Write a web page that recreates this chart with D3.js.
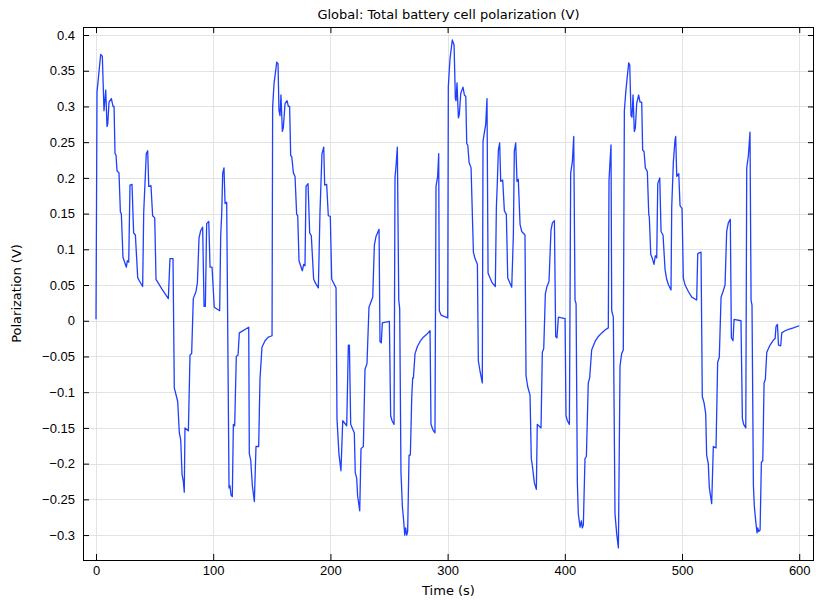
<!DOCTYPE html>
<html lang="en">
<head>
<meta charset="utf-8">
<title>Global: Total battery cell polarization (V)</title>
<script src="https://cdn.jsdelivr.net/npm/d3@7/dist/d3.min.js"></script>
<style>
  body { margin: 0; background: #fff; }
  svg { font-family: "DejaVu Sans", sans-serif; }
  .grid line { stroke: #e3e3e3; stroke-width: 1; }
  .axis path { display: none; }
  .axis line { stroke: #000; }
  .axis text { font-size: 13px; fill: #000; }
</style>
</head>
<body>
<svg width="816" height="600"></svg>
<script>
// time (s)
var time = [
  0, 0.85, 4.0, 5.4, 6.8, 8.3, 9.4, 10, 11.1, 13.1, 14.5, 15.4, 16.2, 17.1, 17.9, 19.6, 20.8, 21.6, 23, 25.9,
  26.7, 27.9, 29, 30.7, 32.1, 33.6, 35.6, 37.3, 39.8, 40.7, 42.9, 44.1, 45, 46.9, 48.3, 50.1, 51.2, 56, 61.7, 63.1,
  65.7, 66.8, 69.7, 71.1, 72.3, 73.4, 74.5, 75.3, 75.9, 78.8, 80.2, 81.6, 83, 85.3, 86.5, 87.9, 89.3, 91, 92.2, 93.3,
  94.4, 96.2, 97.3, 99, 100.9, 105.5, 106.4, 107.2, 108.1, 109.2, 110.1, 111.5, 113.5, 114.3, 115.2, 116.3, 117.2, 118.3, 119.7, 121.2,
  122.3, 130.3, 130.8, 132, 133.4, 135.1, 136.5, 138.8, 139.9, 141.6, 144.2, 147, 150.2, 150.7, 151.9, 154.2, 155.3,
  156.1, 157, 157.8, 159, 159.8, 161.3, 163, 164.1, 165.2, 166.1, 167, 168.4, 169.8, 171.2, 172.1, 173.2, 176, 177.2, 178.3,
  179.2, 180.9, 182.3, 183.7, 185.7, 187.5, 189.7, 191.1, 192.8, 194.3, 195.1, 196.8, 198.2, 199.9, 201.1, 204.8, 205.6, 207.3, 209,
  210.5, 213.9, 215.3, 216.2, 217.3, 220.4, 221.2, 222.4, 223.2, 225, 226.1, 228.1, 229.5, 231.2, 232.9, 236.1, 237.5, 238.9, 241.5,
  242.3, 243.4, 244.3, 250.3, 251.4, 252.6, 254.3, 255.1, 256, 257.1, 258.3, 259.1, 260.2, 261.4, 262.5, 263.4, 264.2, 265.1, 265.9,
  267.1, 268.2, 269.4, 270.2, 270.8, 272.2, 274.2, 276.5, 279.3, 282.2, 285, 285.8, 287.3, 289.2, 290.1, 291.5, 292.4, 292.9, 294.4,
  300.1, 300.6, 302, 304, 305.5,
  306.6, 307.2, 308, 309.2, 310, 311.2, 313.1, 314.3, 315.5, 316.3, 317.2, 318.3, 320, 322, 323.4, 325.4, 326.2, 327.6, 329.6,
  330.2, 331.3, 332.5, 333.6, 334.5, 336.2, 338.1, 340.7, 341.6, 342.4, 343.3, 344.4, 345.3, 347, 348.4, 350.1, 351.3, 354.7, 356.1,
  356.9, 358.1, 359.2, 360.3, 361.8, 363.2, 366, 366.9, 368.3, 370.3, 371.4, 372.3, 374, 375.7, 376.5, 379.7, 380.8, 382, 383.4,
  384.8, 386.5, 388.2, 389.4, 391.1, 392.2, 393.3, 394.5, 400.2, 401, 402.2, 403.9, 405, 406.4, 407.6, 408.7, 409.6, 410.7, 411.5,
  413, 414.1, 414.9, 415.8, 417.2, 418.4, 420, 421.2, 422.9, 425.8, 428.6, 431.5, 434.3, 437.1, 437.7, 438.6, 439.4, 440, 441.4,
  442.8, 444.3, 445.7, 447.1, 448.5, 449.9, 450.8, 452, 453.3, 454.5, 455.4,
  456.5, 457.3, 458.2, 459.3, 460.2, 461.3, 463, 464.2, 465.6, 466.4, 467.6, 468.7, 470.4, 471.6, 472.1, 473.3, 474.7, 476.1, 477.2,
  478.4, 479.3, 481, 482.1, 483.8, 485.5, 486.9, 488.5, 490.6, 491.2, 492.6, 494, 494.6, 495.5, 497.2, 498.3, 500, 501.1, 502.6,
  505.4, 508.3, 512.5, 513.4, 516.2, 517.3, 518.8, 520.2, 521, 522.4, 523.3, 525.3, 526.7, 529, 530.4, 531.8, 533.3, 535, 536.7,
  538.1, 539.5, 541.2, 542.1, 543.5, 544.4, 550.3, 551.5, 552.6, 554.4, 555.2, 556.6, 558, 558.9, 559.7, 560.9, 561.7, 563.1, 564,
  564.6, 565.4, 566.6, 567.7, 568.9, 570, 571.1, 572.3, 575.1, 578, 579.4, 580.2, 581.4, 582.3, 584.2, 585.1, 587.9, 590.8, 595, 600
];

// polarization (V)
var polarization = [
  0.002, 0.32, 0.373, 0.37, 0.294, 0.323, 0.272, 0.275, 0.306, 0.311, 0.30, 0.30, 0.234, 0.232, 0.21, 0.207, 0.152, 0.15, 0.089, 0.075,
  0.084, 0.082, 0.19, 0.191, 0.123, 0.12, 0.06, 0.055, 0.048, 0.152, 0.234, 0.238, 0.188, 0.189, 0.147, 0.144, 0.058, 0.045, 0.031, 0.087,
  0.087, -0.094, -0.113, -0.157, -0.167, -0.215, -0.225, -0.24, -0.15, -0.154, -0.048, -0.046, 0.031, 0.041, 0.053, 0.116, 0.126, 0.131, 0.02, 0.02,
  0.136, 0.139, 0.075, 0.075, 0.019, 0.014, 0.12, 0.147, 0.207, 0.214, 0.164, 0.166, -0.234, -0.231, -0.244, -0.246, -0.145, -0.147, -0.05, -0.048,
  -0.017, -0.009, -0.186, -0.195, -0.231, -0.253, -0.176, -0.176, -0.082, -0.037, -0.028, -0.023, -0.021, 0.299, 0.332, 0.362, 0.36,
  0.294, 0.287, 0.316, 0.265, 0.27, 0.304, 0.308, 0.30, 0.30, 0.231, 0.23, 0.207, 0.202, 0.149, 0.147, 0.084, 0.07, 0.079, 0.077,
  0.188, 0.192, 0.123, 0.119, 0.058, 0.052, 0.046, 0.152, 0.234, 0.243, 0.19, 0.191, 0.147, 0.146, 0.058, 0.046, -0.137, -0.187, -0.21,
  -0.14, -0.147, -0.034, -0.034, -0.145, -0.157, -0.213, -0.22, -0.245, -0.266, -0.179, -0.176, -0.068, -0.06, 0.019, 0.033, 0.106, 0.118, 0.128,
  -0.029, -0.031, -0.003, -0.001, -0.133, -0.14, -0.145, 0.2, 0.217, 0.243, 0.029, 0.017, -0.212, -0.26, -0.28, -0.3, -0.29, -0.3, -0.295,
  -0.188, -0.188, -0.106, -0.08, -0.08, -0.046, -0.036, -0.029, -0.023, -0.019, -0.014, -0.145, -0.152, -0.157, 0.188, 0.202, 0.234, 0.014, 0.008,
  0.004, 0.328, 0.366, 0.393, 0.386,
  0.311, 0.308, 0.333, 0.284, 0.289, 0.318, 0.327, 0.316, 0.314, 0.248, 0.246, 0.222, 0.214, 0.096, 0.087, 0.079, -0.056, -0.07, -0.087,
  0.251, 0.263, 0.275, 0.311, 0.067, 0.06, 0.053, 0.048, 0.159, 0.193, 0.239, 0.249, 0.195, 0.197, 0.154, 0.149, 0.06, 0.047, 0.12,
  0.237, 0.249, 0.195, 0.198, 0.135, 0.125, 0.12, -0.077, -0.092, -0.104, -0.193, -0.203, -0.227, -0.236, -0.145, -0.15, -0.044, -0.039, 0.038,
  0.048, 0.055, 0.127, 0.137, 0.14, -0.022, -0.024, 0.005, 0.003, -0.133, -0.14, -0.145, 0.207, 0.222, 0.258, 0.029, 0.024, -0.227, -0.27,
  -0.289, -0.28, -0.29, -0.286, -0.193, -0.19, -0.087, -0.08, -0.041, -0.029, -0.022, -0.017, -0.013, -0.01, 0.197, 0.224, 0.246, 0.014, 0.005,
  -0.27, -0.299, -0.318, -0.063, -0.046, -0.041, 0.294, 0.32, 0.342, 0.361, 0.358,
  0.287, 0.285, 0.316, 0.265, 0.27, 0.304, 0.316, 0.306, 0.306, 0.239, 0.237, 0.214, 0.209, 0.149, 0.145, 0.093, 0.087, 0.079, 0.091,
  0.088, 0.192, 0.2, 0.125, 0.12, 0.072, 0.058, 0.05, 0.043, 0.159, 0.222, 0.253, 0.258, 0.202, 0.206, 0.161, 0.157, 0.06, 0.05,
  0.041, 0.033, 0.029, 0.094, 0.096, -0.106, -0.115, -0.13, -0.188, -0.2, -0.234, -0.256, -0.176, -0.178, -0.058, -0.051, 0.033, 0.041, 0.05,
  0.125, 0.137, 0.142, -0.024, -0.028, 0.002, 0.0, -0.137, -0.145, -0.15, 0.214, 0.231, 0.264, 0.029, 0.022, -0.231, -0.26, -0.284, -0.297,
  -0.29, -0.295, -0.293, -0.198, -0.196, -0.087, -0.082, -0.044, -0.034, -0.027, -0.025, -0.008, -0.005, -0.034, -0.035, -0.017, -0.014, -0.012, -0.01, -0.007
];

var xTicks = [0, 100, 200, 300, 400, 500, 600];
var yTicks = [-0.3, -0.25, -0.2, -0.15, -0.1, -0.05, 0, 0.05, 0.1, 0.15, 0.2, 0.25, 0.3, 0.35, 0.4];

var data = time.map(function(t, i) { return {t: t, v: polarization[i]}; });

var margin = {top: 27, right: 2, bottom: 40, left: 83},
    width = 816 - margin.left - margin.right,
    height = 600 - margin.top - margin.bottom;

var x = d3.scaleLinear()
    .domain([-11.1, 612.6])
    .range([0, width]);

var y = d3.scaleLinear()
    .domain([-0.3349, 0.4112])
    .range([height, 0]);

var svg = d3.select("svg");
var g = svg.append("g")
    .attr("transform", "translate(" + margin.left + "," + margin.top + ")");

// grid
g.append("g").attr("class", "grid")
  .selectAll("line").data(xTicks).enter().append("line")
    .attr("x1", function(d) { return Math.round(x(d)) + 0.5; })
    .attr("x2", function(d) { return Math.round(x(d)) + 0.5; })
    .attr("y1", 0).attr("y2", height);
g.append("g").attr("class", "grid")
  .selectAll("line").data(yTicks).enter().append("line")
    .attr("y1", function(d) { return Math.round(y(d)) + 0.5; })
    .attr("y2", function(d) { return Math.round(y(d)) + 0.5; })
    .attr("x1", 0).attr("x2", width);

// line
var line = d3.line()
    .x(function(d) { return x(d.t); })
    .y(function(d) { return y(d.v); });

g.append("path")
    .datum(data)
    .attr("fill", "none")
    .attr("stroke", "#1f3fff")
    .attr("stroke-width", 1.3)
    .attr("stroke-linejoin", "round")
    .attr("d", line);

// axes, ticks pointing inward
var fmt = function(d) { return d3.format("")(+d.toFixed(2)); };

g.append("g").attr("class", "axis")
    .attr("transform", "translate(0," + height + ")")
    .call(d3.axisBottom(x).tickValues(xTicks).tickSize(-6).tickPadding(6));
g.append("g").attr("class", "axis")
    .call(d3.axisTop(x).tickValues(xTicks).tickSize(-6).tickFormat(""));
g.append("g").attr("class", "axis")
    .call(d3.axisLeft(y).tickValues(yTicks).tickSize(-6).tickPadding(8).tickFormat(fmt));
g.append("g").attr("class", "axis")
    .attr("transform", "translate(" + width + ",0)")
    .call(d3.axisRight(y).tickValues(yTicks).tickSize(-6).tickFormat(""));

// frame
g.append("rect")
    .attr("x", 0.5).attr("y", 0.5)
    .attr("width", width - 1).attr("height", height)
    .attr("fill", "none")
    .attr("stroke", "#000")
    .attr("stroke-width", 1);

// labels
svg.append("text")
    .attr("x", margin.left + width / 2)
    .attr("y", 19)
    .attr("text-anchor", "middle")
    .style("font-size", "13px")
    .text("Global: Total battery cell polarization (V)");

svg.append("text")
    .attr("x", margin.left + width / 2)
    .attr("y", 595)
    .attr("text-anchor", "middle")
    .style("font-size", "13px")
    .text("Time (s)");

svg.append("text")
    .attr("transform", "translate(21," + (margin.top + height / 2) + ") rotate(-90)")
    .attr("text-anchor", "middle")
    .style("font-size", "13px")
    .text("Polarization (V)");
</script>
</body>
</html>
